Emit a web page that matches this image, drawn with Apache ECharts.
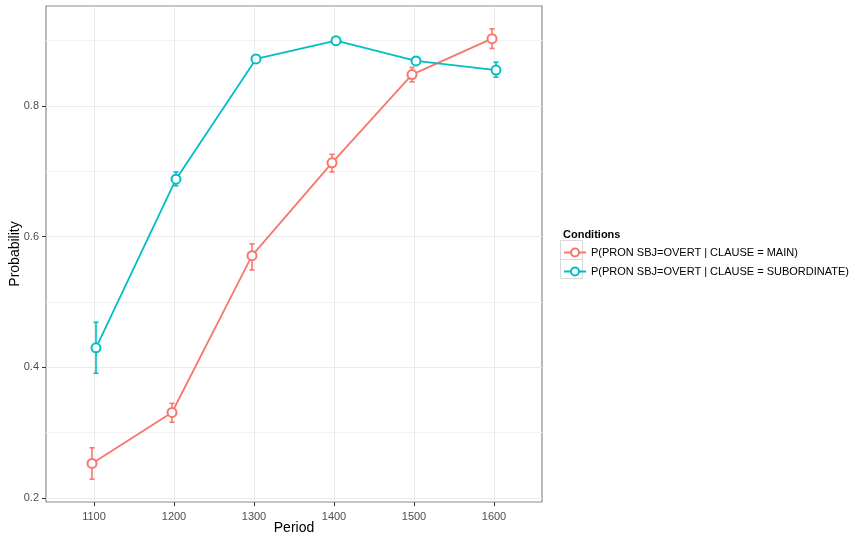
<!DOCTYPE html>
<html>
<head>
<meta charset="utf-8">
<script src="https://cdn.jsdelivr.net/npm/echarts@6/dist/echarts.min.js"></script>
<style>html,body{margin:0;padding:0;background:#fff;}#c{width:858px;height:536px;}</style>
</head>
<body>
<div id="c"></div>
<script>
const periods = [1100, 1200, 1300, 1400, 1500, 1600];
const mainMean = [0.253, 0.331, 0.571, 0.713, 0.848, 0.903];
const mainLow  = [0.229, 0.316, 0.549, 0.699, 0.837, 0.888];
const mainHigh = [0.277, 0.345, 0.589, 0.726, 0.859, 0.918];
const subMean  = [0.430, 0.688, 0.872, 0.900, 0.869, 0.855];
const subLow   = [0.391, 0.678, 0.866, 0.895, 0.863, 0.844];
const subHigh  = [0.469, 0.699, 0.878, 0.905, 0.875, 0.867];
const yTickValues = [0.2, 0.4, 0.6, 0.8];
const seriesNames = ['P(PRON SBJ=OVERT | CLAUSE = MAIN)', 'P(PRON SBJ=OVERT | CLAUSE = SUBORDINATE)'];
const colors = ['#F8766D', '#00BFC4'];
const dodge = 2.5;

function pts(mean, off) { return periods.map((p, i) => [p + off, mean[i]]); }
function errs(low, high, off) { return periods.map((p, i) => [p + off, low[i], high[i]]); }

function errRender(color) {
  return function (params, api) {
    const x = api.value(0);
    const lo = api.coord([x, api.value(1)]);
    const hi = api.coord([x, api.value(2)]);
    const w = 2.5;
    const st = { stroke: color, lineWidth: 1.6 };
    return { type: 'group', children: [
      { type: 'line', shape: { x1: lo[0], y1: lo[1], x2: hi[0], y2: hi[1] }, style: st },
      { type: 'line', shape: { x1: lo[0] - w, y1: lo[1], x2: lo[0] + w, y2: lo[1] }, style: st },
      { type: 'line', shape: { x1: hi[0] - w, y1: hi[1], x2: hi[0] + w, y2: hi[1] }, style: st }
    ]};
  };
}

const font = 'Liberation Sans, Arial, Helvetica, sans-serif';
const chart = echarts.init(document.getElementById('c'), null, { renderer: 'canvas' });
chart.setOption({
  animation: false,
  backgroundColor: '#fff',
  textStyle: { fontFamily: font },
  title: { text: 'Conditions', left: 558, top: 224, textStyle: { fontSize: 11, fontWeight: 'bold', color: '#000', fontFamily: font } },
  legend: {
    orient: 'vertical', left: 558, top: 242, itemWidth: 22, itemHeight: 10, itemGap: 8,
    data: seriesNames,
    textStyle: { fontSize: 11, color: '#000', fontFamily: font }
  },
  graphic: [
    { type: 'rect', left: 558, top: 238, shape: { width: 22, height: 19 }, style: { fill: 'none', stroke: '#d9d9d9', lineWidth: 1 }, z: -1 },
    { type: 'rect', left: 558, top: 257, shape: { width: 22, height: 19 }, style: { fill: 'none', stroke: '#d9d9d9', lineWidth: 1 }, z: -1 }
  ],
  grid: { left: 46, top: 6, right: 316, bottom: 34, show: true, borderColor: '#8c8c8c', borderWidth: 1.2, backgroundColor: '#fff', containLabel: false, outerBoundsMode: 'none' },
  xAxis: {
    type: 'value', min: 1040, max: 1660, splitNumber: 6,
    name: 'Period', nameLocation: 'middle', nameGap: 19, nameMoveOverlap: false,
    nameTextStyle: { fontSize: 14, color: '#000', fontFamily: font },
    axisLine: { show: false },
    axisTick: { show: true, length: 4, lineStyle: { color: '#333' }, customValues: periods },
    axisLabel: { fontSize: 11, color: '#4d4d4d', margin: 9, customValues: periods, formatter: v => String(v) },
    splitLine: { show: true, lineStyle: { color: '#ebebeb', width: 1 } }
  },
  yAxis: {
    type: 'value', min: 0.194, max: 0.953, splitNumber: 4,
    name: 'Probability', nameLocation: 'middle', nameGap: 24, nameMoveOverlap: false,
    nameTextStyle: { fontSize: 14, color: '#000', fontFamily: font },
    axisLine: { show: false },
    axisTick: { show: true, length: 4, lineStyle: { color: '#333' }, customValues: yTickValues },
    axisLabel: { fontSize: 11, color: '#4d4d4d', margin: 7, customValues: yTickValues, formatter: v => v.toFixed(1) },
    splitLine: { show: true, lineStyle: { color: '#ebebeb', width: 1 } },
    minorTick: { show: false, splitNumber: 2 },
    minorSplitLine: { show: true, lineStyle: { color: '#f2f2f2', width: 1 } }
  },
  series: [
    { type: 'custom', name: seriesNames[0] + ' err', renderItem: errRender(colors[0]), data: errs(mainLow, mainHigh, -dodge), z: 2, silent: true },
    { type: 'custom', name: seriesNames[1] + ' err', renderItem: errRender(colors[1]), data: errs(subLow, subHigh, dodge), z: 2, silent: true },
    { type: 'line', name: seriesNames[0], data: pts(mainMean, -dodge), color: colors[0], symbol: 'emptyCircle', symbolSize: 9,
      lineStyle: { width: 1.8, color: colors[0] }, itemStyle: { color: colors[0], borderWidth: 1.5 }, z: 3 },
    { type: 'line', name: seriesNames[1], data: pts(subMean, dodge), color: colors[1], symbol: 'emptyCircle', symbolSize: 9,
      lineStyle: { width: 1.8, color: colors[1] }, itemStyle: { color: colors[1], borderWidth: 1.5 }, z: 3 }
  ]
});
</script>
</body>
</html>
